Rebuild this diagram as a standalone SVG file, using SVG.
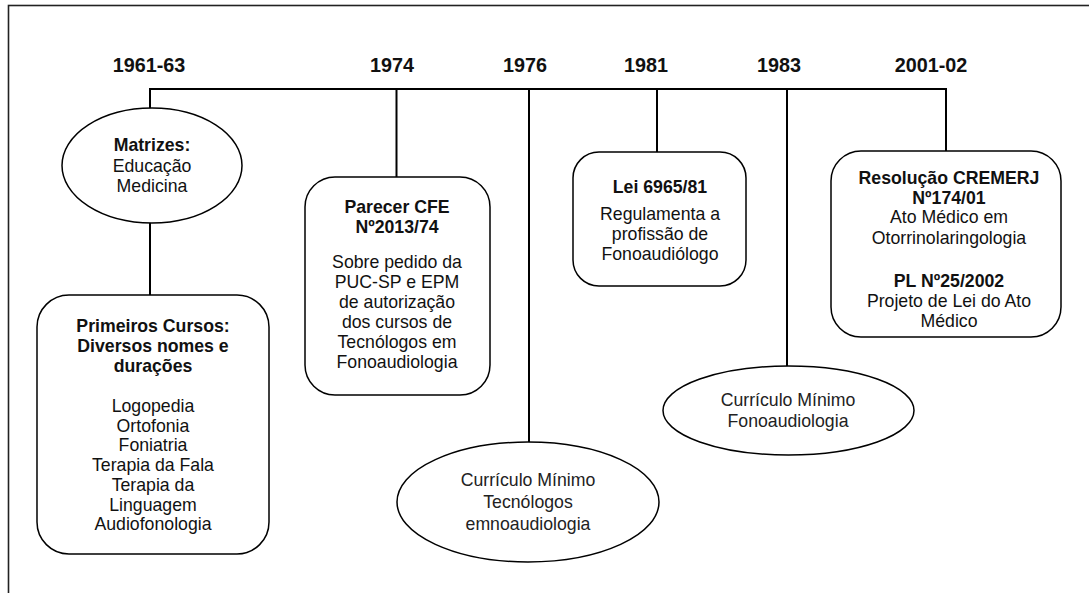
<svg xmlns="http://www.w3.org/2000/svg" width="1089" height="593" viewBox="0 0 1089 593">
<style>
.frame{fill:none;stroke:#222;stroke-width:1.6}
.shape{fill:#fff;stroke:#000;stroke-width:1.5}
.conn line{stroke:#000;stroke-width:2}
text{font-family:"Liberation Sans",Arial,sans-serif;font-size:17.7px;fill:#111;text-anchor:middle}
.year{font-size:19.8px;font-weight:bold}
.b{font-weight:bold}
.g{fill:#222}
</style>
<rect width="1089" height="593" fill="#fff"/>
<rect class="frame" x="8.5" y="5.5" width="1100" height="600"/>
<g id="years">
<text class="year" x="149" y="72">1961-63</text>
<text class="year" x="392" y="72">1974</text>
<text class="year" x="525" y="72">1976</text>
<text class="year" x="646" y="72">1981</text>
<text class="year" x="779" y="72">1983</text>
<text class="year" x="931" y="72">2001-02</text>
</g>
<g id="connectors" class="conn">
<line x1="149" y1="89" x2="947" y2="89"/>
<line x1="150" y1="89" x2="150" y2="108"/>
<line x1="150" y1="223" x2="150" y2="295"/>
<line x1="396.5" y1="89" x2="396.5" y2="177"/>
<line x1="529" y1="89" x2="529" y2="442"/>
<line x1="657" y1="89" x2="657" y2="152"/>
<line x1="787" y1="89" x2="787" y2="366"/>
<line x1="946" y1="89" x2="946" y2="151"/>
</g>
<g id="matrizes">
<ellipse class="shape" cx="152" cy="165.5" rx="90" ry="57.5"/>
<text class="b" x="152" y="151">Matrizes:</text>
<text x="152" y="172">Educação</text>
<text x="152" y="192">Medicina</text>
</g>
<g id="primeiros-cursos">
<rect class="shape" x="37" y="295" width="232" height="259" rx="32"/>
<text class="b" x="153" y="332">Primeiros Cursos:</text>
<text class="b" x="153" y="352">Diversos nomes e</text>
<text class="b" x="153" y="372">durações</text>
<text x="153" y="412">Logopedia</text>
<text x="153" y="432">Ortofonia</text>
<text x="153" y="451">Foniatria</text>
<text x="153" y="471">Terapia da Fala</text>
<text x="153" y="491">Terapia da</text>
<text x="153" y="511">Linguagem</text>
<text x="153" y="530">Audiofonologia</text>
</g>
<g id="parecer">
<rect class="shape" x="305" y="177" width="185" height="218" rx="30"/>
<text class="b" x="397" y="213">Parecer CFE</text>
<text class="b" x="397" y="233">Nº2013/74</text>
<text x="397" y="268">Sobre pedido da</text>
<text x="397" y="288">PUC-SP e EPM</text>
<text x="397" y="308">de autorização</text>
<text x="397" y="328">dos cursos de</text>
<text x="397" y="348">Tecnólogos em</text>
<text x="397" y="368">Fonoaudiologia</text>
</g>
<g id="curriculo-tecnologos">
<ellipse class="shape" cx="528" cy="502" rx="131" ry="60"/>
<text class="g" x="528" y="486">Currículo Mínimo</text>
<text class="g" x="528" y="508">Tecnólogos</text>
<text class="g" x="528" y="530">emnoaudiologia</text>
</g>
<g id="lei">
<rect class="shape" x="573" y="152" width="173" height="134" rx="26"/>
<text class="b" x="660" y="193">Lei 6965/81</text>
<text x="660" y="220">Regulamenta a</text>
<text x="660" y="240">profissão de</text>
<text x="660" y="260">Fonoaudiólogo</text>
</g>
<g id="curriculo-fono">
<ellipse class="shape" cx="788.5" cy="410.5" rx="125.5" ry="44.5"/>
<text class="g" x="788" y="406">Currículo Mínimo</text>
<text class="g" x="788" y="427">Fonoaudiologia</text>
</g>
<g id="resolucao">
<rect class="shape" x="831" y="151" width="230" height="186" rx="30"/>
<text class="b" x="949" y="184">Resolução CREMERJ</text>
<text class="b" x="949" y="204">Nº174/01</text>
<text x="949" y="223">Ato Médico em</text>
<text x="949" y="244">Otorrinolaringologia</text>
<text class="b" x="949" y="287">PL Nº25/2002</text>
<text x="949" y="307">Projeto de Lei do Ato</text>
<text x="949" y="327">Médico</text>
</g>
</svg>
